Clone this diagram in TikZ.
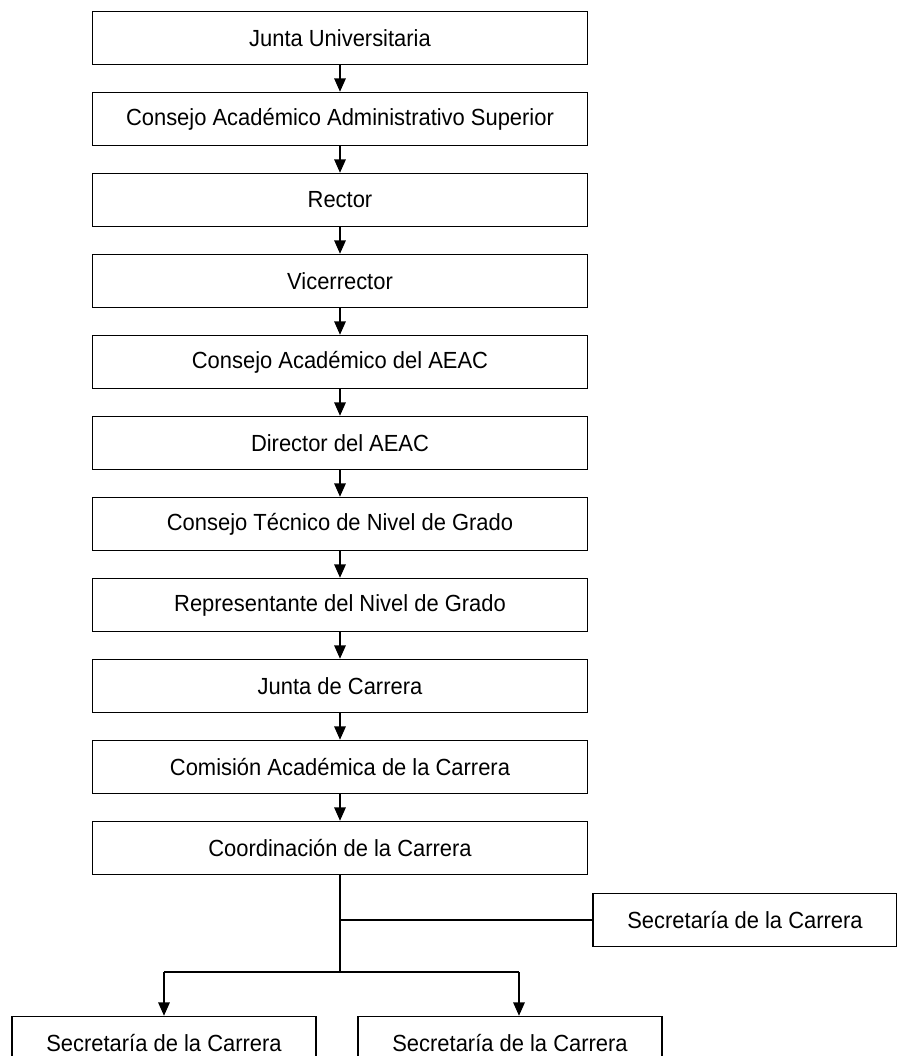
\documentclass[tikz,border=0pt]{standalone}
\usepackage{fontspec}
\setmainfont[FakeStretch=0.94]{Liberation Sans}
\usetikzlibrary{trees,arrows.meta}

\begin{document}
\begin{tikzpicture}[
                      x = 0.75pt,
                      y = -0.75pt,
                   grow = down,
                  arrow/.style = {draw, line width=1.3pt, -{Triangle[length=10pt,width=8.5pt]}},
edge from parent/.style = {arrow},
      every node/.style = {font=\fontsize{17.5}{21}\selectfont, inner sep=0pt},
              unit/.style = {draw, line width=0.8pt, minimum width=371pt, minimum height=40pt},
              side/.style = {draw, line width=0.8pt, minimum width=228pt, minimum height=40pt},
         level distance = 60.75pt,
                     ]
\useasboundingbox (0,0) rectangle (896,1056);
\node[unit] (junta) at (340,38) {Junta Universitaria}
    child {node[unit] (superior) {Consejo Académico Administrativo Superior}
    child {node[unit] (rector) {Rector}
    child {node[unit] (vice) {Vicerrector}
    child {node[unit] (consaeac) {Consejo Académico del AEAC}
    child {node[unit] (diraeac) {Director del AEAC}
    child {node[unit] (tecnico) {Consejo Técnico de Nivel de Grado}
    child {node[unit] (repres) {Representante del Nivel de Grado}
    child {node[unit] (jcarrera) {Junta de Carrera}
    child {node[unit] (comision) {Comisión Académica de la Carrera}
    child {node[unit] (coord) {Coordinación de la Carrera}
          }}}}}}}}}};
% secretarias
\node[side] (secside) at (745,920) {Secretaría de la Carrera};
\node[side] (secleft) at (164,1043) {Secretaría de la Carrera};
\node[side] (secright) at (510,1043) {Secretaría de la Carrera};
\coordinate (junc) at (340,920);
\coordinate (fork) at (340,972);
\coordinate (forkL) at (164,972);
\coordinate (forkR) at (519,972);
\draw[line width=1.3pt] (coord.south) -- (fork);
\draw[line width=1.3pt] (junc) -- (secside.west);
\draw[line width=1.3pt] (forkL) -- (forkR);
\draw[arrow] (forkL) -- (secleft.north);
\draw[arrow] (forkR) -- (forkR |- secright.north);
\end{tikzpicture}
\end{document}
